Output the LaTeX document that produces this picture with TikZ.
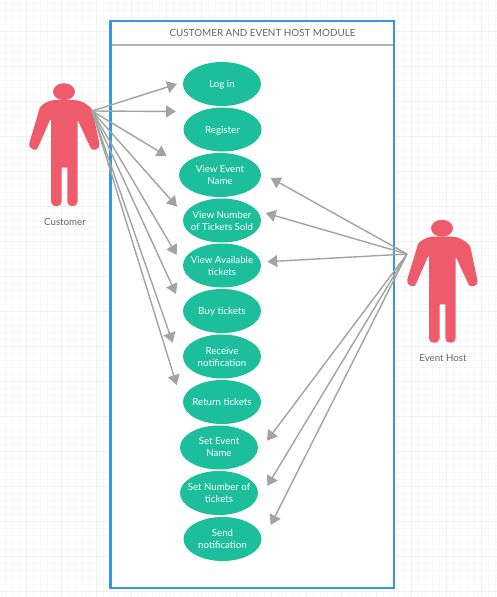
\documentclass[tikz,border=0pt]{standalone}
\usepackage{fontspec}
\setmainfont{Lato}
\usetikzlibrary{arrows.meta,shapes.geometric}
\definecolor{usecasegreen}{HTML}{1CBE9C}
\definecolor{actorred}{HTML}{EE5C6B}
\definecolor{modulblue}{HTML}{3498DB}
\definecolor{assocgray}{HTML}{A3A3A3}
\definecolor{labelgray}{HTML}{666666}
\tikzset{
    usecase/.style={ellipse, fill=usecasegreen, text=white, minimum width=78pt, minimum height=44pt,
        inner xsep=-10pt, inner ysep=0pt, align=center, font=\fontsize{9.7}{12}\selectfont},
    oneline/.style={text depth=0pt},
    assoc/.style={draw=assocgray, line width=1.4pt, -{Triangle[length=10pt,width=12pt]}},
    actorlabel/.style={text=labelgray, font=\fontsize{9.7}{12}\selectfont},
    actor/.pic={
        \fill [actorred] (0,0) ellipse (11 and 8.5);
        \fill [actorred] (-10,8.3) .. controls (-16,9) and (-21,12) .. (-24,15.6)
            -- (-34.7,51.3) .. controls (-36,58) and (-26,61) .. (-25.7,55)
            -- (-14,28.3) -- (-13,28.3) -- (-13,110)
            .. controls (-13,116) and (-2.3,116) .. (-2.3,110) -- (-2.3,76) -- (3.3,76) -- (3.3,110)
            .. controls (3.3,116) and (13.7,116) .. (13.7,110) -- (13.7,28.3) -- (26,55)
            .. controls (28,61) and (37,58) .. (35.3,51.3)
            -- (28.3,18.3) .. controls (24,12) and (17,9) .. (11,8.3) -- cycle;
    }
}
\begin{document}
\begin{tikzpicture}[x=1pt,y=-1pt]
    \useasboundingbox (0,0) rectangle (497,597);
    \foreach \x in {5.5,12.5,...,497} \draw [color=black!3, line width=.6pt] (\x,0) -- (\x,597);
    \foreach \y in {3,10,...,597} \draw [color=black!3, line width=.6pt] (0,\y) -- (497,\y);
    \foreach \x in {26.5,61.5,...,497} \draw [color=black!6, line width=.7pt] (\x,0) -- (\x,597);
    \foreach \y in {31,66,...,597} \draw [color=black!6, line width=.7pt] (0,\y) -- (497,\y);

    \fill [color=white] (110.5,21) rectangle (394,588);
    \draw [color=black!30, line width=1.8pt] (110.5,45) -- (394,45);
    \draw [color=modulblue, line width=2.4pt] (110.5,21) rectangle (394,588);
    \node (module) at (262.5,33) [text=labelgray, font=\fontsize{9.85}{12}\selectfont] {CUSTOMER AND EVENT HOST MODULE};

    \pic at (64,91.7) {actor};
    \pic at (442,228.3) {actor};
    \node (customer) at (65,222.5) [actorlabel] {Customer};
    \node (host) at (443,358.5) [actorlabel] {Event Host};

    \node (login) at (222,84) [usecase,oneline] {Log in};
    \node (register) at (222.5,129.5) [usecase,oneline] {Register};
    \node (viewname) at (220,175) [usecase,minimum width=82pt] {View Event\\Name};
    \node (viewsold) at (222,220.5) [usecase] {View Number\\of Tickets Sold};
    \node (viewavail) at (222,265.5) [usecase] {View Available\\tickets};
    \node (buy) at (222,311) [usecase,oneline] {Buy tickets};
    \node (receive) at (222,356.5) [usecase] {Receive\\notification};
    \node (return) at (222,402) [usecase,oneline] {Return tickets};
    \node (setname) at (219,447.5) [usecase] {Set Event\\Name};
    \node (setnumber) at (219,493) [usecase] {Set Number of\\tickets};
    \node (send) at (222.5,539) [usecase] {Send\\notification};

    \coordinate (customerhand) at (92,111);
    \coordinate (hosthand) at (407,254);
    \coordinate (tologin) at (177,84);
    \coordinate (toregister) at (176,111.5);
    \coordinate (toviewname) at (166.7,156);
    \coordinate (toviewsold) at (177,206.7);
    \coordinate (toviewavail) at (176.7,255);
    \coordinate (tobuy) at (176,294);
    \coordinate (toreceive) at (172.7,342.7);
    \coordinate (toreturn) at (176.7,385);
    \coordinate (fromviewname) at (270.7,178);
    \coordinate (fromviewsold) at (265.7,213);
    \coordinate (fromviewavail) at (267.3,261.7);
    \coordinate (fromsetname) at (267,440.7);
    \coordinate (fromsetnumber) at (267.3,486);
    \coordinate (fromsend) at (270.7,525);

    \draw [assoc] (customerhand) -- (tologin);
    \draw [assoc] (customerhand) -- (toregister);
    \draw [assoc] (customerhand) -- (toviewname);
    \draw [assoc] (customerhand) -- (toviewsold);
    \draw [assoc] (customerhand) -- (toviewavail);
    \draw [assoc] (customerhand) -- (tobuy);
    \draw [assoc] (customerhand) -- (toreceive);
    \draw [assoc] (customerhand) -- (toreturn);
    \draw [assoc] (hosthand) -- (fromviewname);
    \draw [assoc] (hosthand) -- (fromviewsold);
    \draw [assoc] (hosthand) -- (fromviewavail);
    \draw [assoc] (hosthand) -- (fromsetname);
    \draw [assoc] (hosthand) -- (fromsetnumber);
    \draw [assoc] (hosthand) -- (fromsend);
\end{tikzpicture}
\end{document}
